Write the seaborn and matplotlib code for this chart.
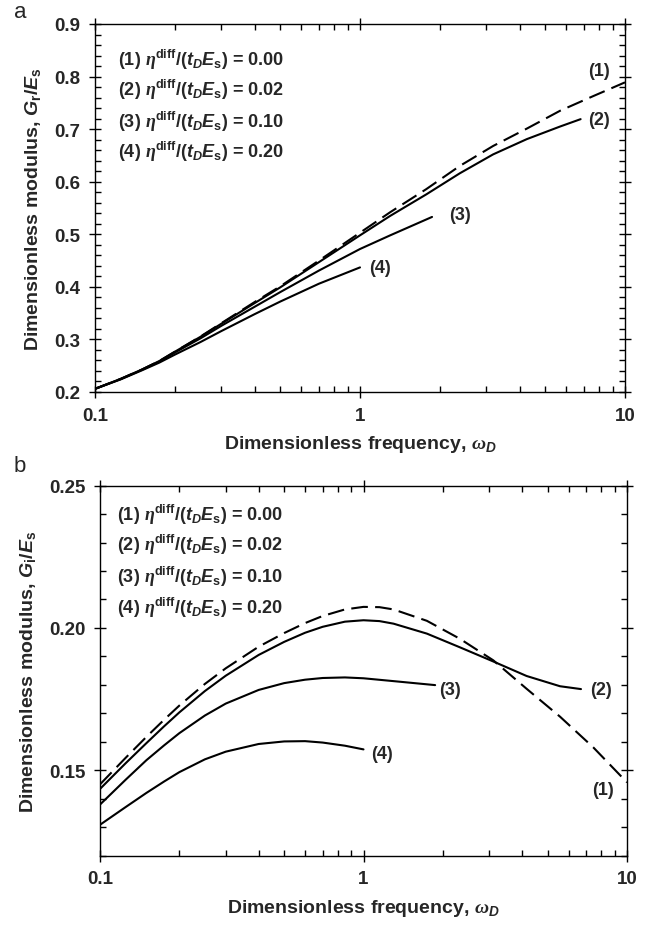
import numpy as np
import pandas as pd
import seaborn as sns
import matplotlib
matplotlib.use('Agg')
import matplotlib.pyplot as plt
from matplotlib.ticker import MultipleLocator, NullFormatter, FixedLocator, FixedFormatter, LogLocator

# panel a : Gr/Es against omega_D
w_a1 = [0.1, 0.125, 0.15, 0.175, 0.2, 0.25, 0.3, 0.4, 0.5, 0.7, 1.0, 1.3, 1.78, 2.38, 3.18, 4.26, 5.69, 7.6, 10]
g_a1 = [0.206, 0.225, 0.2425, 0.259, 0.2765, 0.3055, 0.331, 0.371, 0.401, 0.450, 0.503, 0.542, 0.586, 0.630, 0.668, 0.701, 0.735, 0.763, 0.789]
w_a2 = [0.1, 0.125, 0.15, 0.175, 0.2, 0.25, 0.3, 0.4, 0.5, 0.7, 1.0, 1.3, 1.78, 2.38, 3.18, 4.26, 5.69, 6.8]
g_a2 = [0.206, 0.225, 0.2425, 0.259, 0.2765, 0.305, 0.330, 0.369, 0.399, 0.447, 0.498, 0.535, 0.576, 0.616, 0.652, 0.681, 0.705, 0.719]
w_a3 = [0.1, 0.125, 0.15, 0.175, 0.2, 0.25, 0.3, 0.4, 0.5, 0.7, 1.0, 1.3, 1.87]
g_a3 = [0.206, 0.2245, 0.242, 0.258, 0.275, 0.302, 0.326, 0.362, 0.390, 0.431, 0.472, 0.498, 0.533]
w_a4 = [0.1, 0.125, 0.15, 0.175, 0.2, 0.25, 0.3, 0.4, 0.5, 0.7, 1.0]
g_a4 = [0.206, 0.224, 0.241, 0.256, 0.271, 0.295, 0.316, 0.348, 0.372, 0.406, 0.437]

# panel b : Gi/Es against omega_D
w_b1 = [0.1, 0.125, 0.15, 0.175, 0.2, 0.25, 0.3, 0.4, 0.5, 0.6, 0.7, 0.85, 1.0, 1.15, 1.3, 1.74, 2.32, 3.11, 4.16, 5.57, 7.45, 10]
g_b1 = [0.1450, 0.1543, 0.1617, 0.1677, 0.1727, 0.1803, 0.1858, 0.1934, 0.1982, 0.2017, 0.2042, 0.2065, 0.2074, 0.2073, 0.2065,
        0.2025, 0.1962, 0.1886, 0.1786, 0.1688, 0.1580, 0.1457]
w_b2 = [0.1, 0.125, 0.15, 0.175, 0.2, 0.25, 0.3, 0.4, 0.5, 0.6, 0.7, 0.85, 1.0, 1.15, 1.3, 1.74, 2.32, 3.11, 4.16, 5.57, 6.69]
g_b2 = [0.1434, 0.1524, 0.1595, 0.1654, 0.1703, 0.1778, 0.1832, 0.1905, 0.1951, 0.1983, 0.2004, 0.2022, 0.2027, 0.2024, 0.2015,
        0.1980, 0.1932, 0.1882, 0.1831, 0.1795, 0.1785]
w_b3 = [0.1, 0.125, 0.15, 0.175, 0.2, 0.25, 0.3, 0.4, 0.5, 0.6, 0.7, 0.85, 1.0, 1.3, 1.87]
g_b3 = [0.1379, 0.1466, 0.1535, 0.1587, 0.1630, 0.1692, 0.1734, 0.1782, 0.1806, 0.1818, 0.1824, 0.1826, 0.1823, 0.1813, 0.1799]
w_b4 = [0.1, 0.125, 0.15, 0.175, 0.2, 0.25, 0.3, 0.4, 0.5, 0.6, 0.7, 0.85, 1.0]
g_b4 = [0.1308, 0.1370, 0.1420, 0.1460, 0.1493, 0.1538, 0.1565, 0.1592, 0.1601, 0.1602, 0.1597, 0.1586, 0.1573]

curve_names = ['(1)', '(2)', '(3)', '(4)']
eta_values = ['0.00', '0.02', '0.10', '0.20']

sns.set_theme(style='ticks')
plt.rcParams['font.family'] = ['Liberation Sans', 'DejaVu Sans']
plt.rcParams['font.weight'] = 'bold'
plt.rcParams['axes.labelweight'] = 'bold'
plt.rcParams['mathtext.fontset'] = 'custom'
plt.rcParams['mathtext.rm'] = 'Liberation Sans:bold'
plt.rcParams['mathtext.it'] = 'Liberation Sans:italic:bold'
plt.rcParams['mathtext.bf'] = 'Liberation Sans:bold'
plt.rcParams['mathtext.sf'] = 'Liberation Serif:italic'


def make_df(ws, gs):
    rows = []
    for name, w, g in zip(curve_names, ws, gs):
        rows.append(pd.DataFrame({'omega': w, 'G': g, 'curve': name}))
    return pd.concat(rows, ignore_index=True)


df_a = make_df([w_a1, w_a2, w_a3, w_a4], [g_a1, g_a2, g_a3, g_a4])
df_b = make_df([w_b1, w_b2, w_b3, w_b4], [g_b1, g_b2, g_b3, g_b4])

pal = {c: 'black' for c in curve_names}
dash = {'(1)': (8, 3.5), '(2)': '', '(3)': '', '(4)': ''}

fig = plt.figure(figsize=(6.54, 9.28), dpi=100)
ax_a = fig.add_axes([95 / 654, 1 - 393 / 928, 530 / 654, 368 / 928])
ax_b = fig.add_axes([100 / 654, 1 - 856.5 / 928, 527 / 654, 369.8 / 928])


def style_axis(ax, ylab):
    ax.set_xscale('log')
    ax.set_xlim(0.1, 10)
    ax.xaxis.set_major_locator(FixedLocator([0.1, 1, 10]))
    ax.xaxis.set_major_formatter(FixedFormatter(['0.1', '1', '10']))
    ax.xaxis.set_minor_locator(LogLocator(base=10, subs=np.arange(2, 10)))
    ax.xaxis.set_minor_formatter(NullFormatter())
    ax.tick_params(which='major', direction='inout', length=9, width=1.0,
                   top=True, right=True, labelsize=13.5, pad=6, color='black')
    ax.tick_params(which='minor', direction='in', length=4, width=1.0,
                   top=True, right=True, color='black')
    for s in ax.spines.values():
        s.set_linewidth(1.0)
        s.set_color('black')
    ax.set_xlabel(r'Dimensionless frequency, $\mathsf{\omega}_{D}$', fontsize=14, labelpad=7)
    ax.set_ylabel(ylab, fontsize=14, labelpad=8)
    for lab in ax.get_xticklabels() + ax.get_yticklabels():
        lab.set_fontweight('bold')


def legend_text(ax, x0, ys):
    for name, ev, y in zip(curve_names, eta_values, ys):
        ax.text(x0, y, name + r' $\mathsf{\eta}^{\mathrm{diff}}/(t_{D}E_{\mathrm{s}})$ = ' + ev,
                transform=ax.transAxes, fontsize=13, ha='left', va='center')


# panel a
sns.lineplot(data=df_a, x='omega', y='G', hue='curve', style='curve', palette=pal,
             dashes=dash, estimator=None, linewidth=1.5, legend=False, ax=ax_a)
style_axis(ax_a, r'Dimensionless modulus, $G_{\mathrm{r}}/E_{\mathrm{s}}$')
ax_a.set_ylim(0.2, 0.9)
ax_a.yaxis.set_major_locator(MultipleLocator(0.1))
ax_a.yaxis.set_minor_locator(MultipleLocator(0.02))
ax_a.yaxis.set_major_formatter(plt.FormatStrFormatter('%.1f'))
legend_text(ax_a, 0.043, [0.905, 0.823, 0.737, 0.655])
ax_a.text(7.98, 0.811, '(1)', fontsize=13, ha='center', va='center')
ax_a.text(8.0, 0.719, '(2)', fontsize=13, ha='center', va='center')
ax_a.text(2.38, 0.538, '(3)', fontsize=13, ha='center', va='center')
ax_a.text(1.19, 0.437, '(4)', fontsize=13, ha='center', va='center')
fig.text(14 / 654, 1 - 12 / 928, 'a', fontsize=16, fontweight='normal', va='center')

# panel b
sns.lineplot(data=df_b, x='omega', y='G', hue='curve', style='curve', palette=pal,
             dashes=dash, estimator=None, linewidth=1.5, legend=False, ax=ax_b)
style_axis(ax_b, r'Dimensionless modulus, $G_{\mathrm{i}}/E_{\mathrm{s}}$')
ax_b.set_ylim(0.12, 0.25)
ax_b.yaxis.set_major_locator(MultipleLocator(0.05))
ax_b.yaxis.set_minor_locator(MultipleLocator(0.01))
ax_b.yaxis.set_major_formatter(plt.FormatStrFormatter('%.2f'))
legend_text(ax_b, 0.032, [0.9235, 0.8424, 0.7567, 0.672])
ax_b.text(2.13, 0.1784, '(3)', fontsize=13, ha='center', va='center')
ax_b.text(7.95, 0.1784, '(2)', fontsize=13, ha='center', va='center')
ax_b.text(1.18, 0.1559, '(4)', fontsize=13, ha='center', va='center')
ax_b.text(8.1, 0.1432, '(1)', fontsize=13, ha='center', va='center')
fig.text(14 / 654, 1 - 467 / 928, 'b', fontsize=16, fontweight='normal', va='center')

fig.savefig('out.png', dpi=100)
